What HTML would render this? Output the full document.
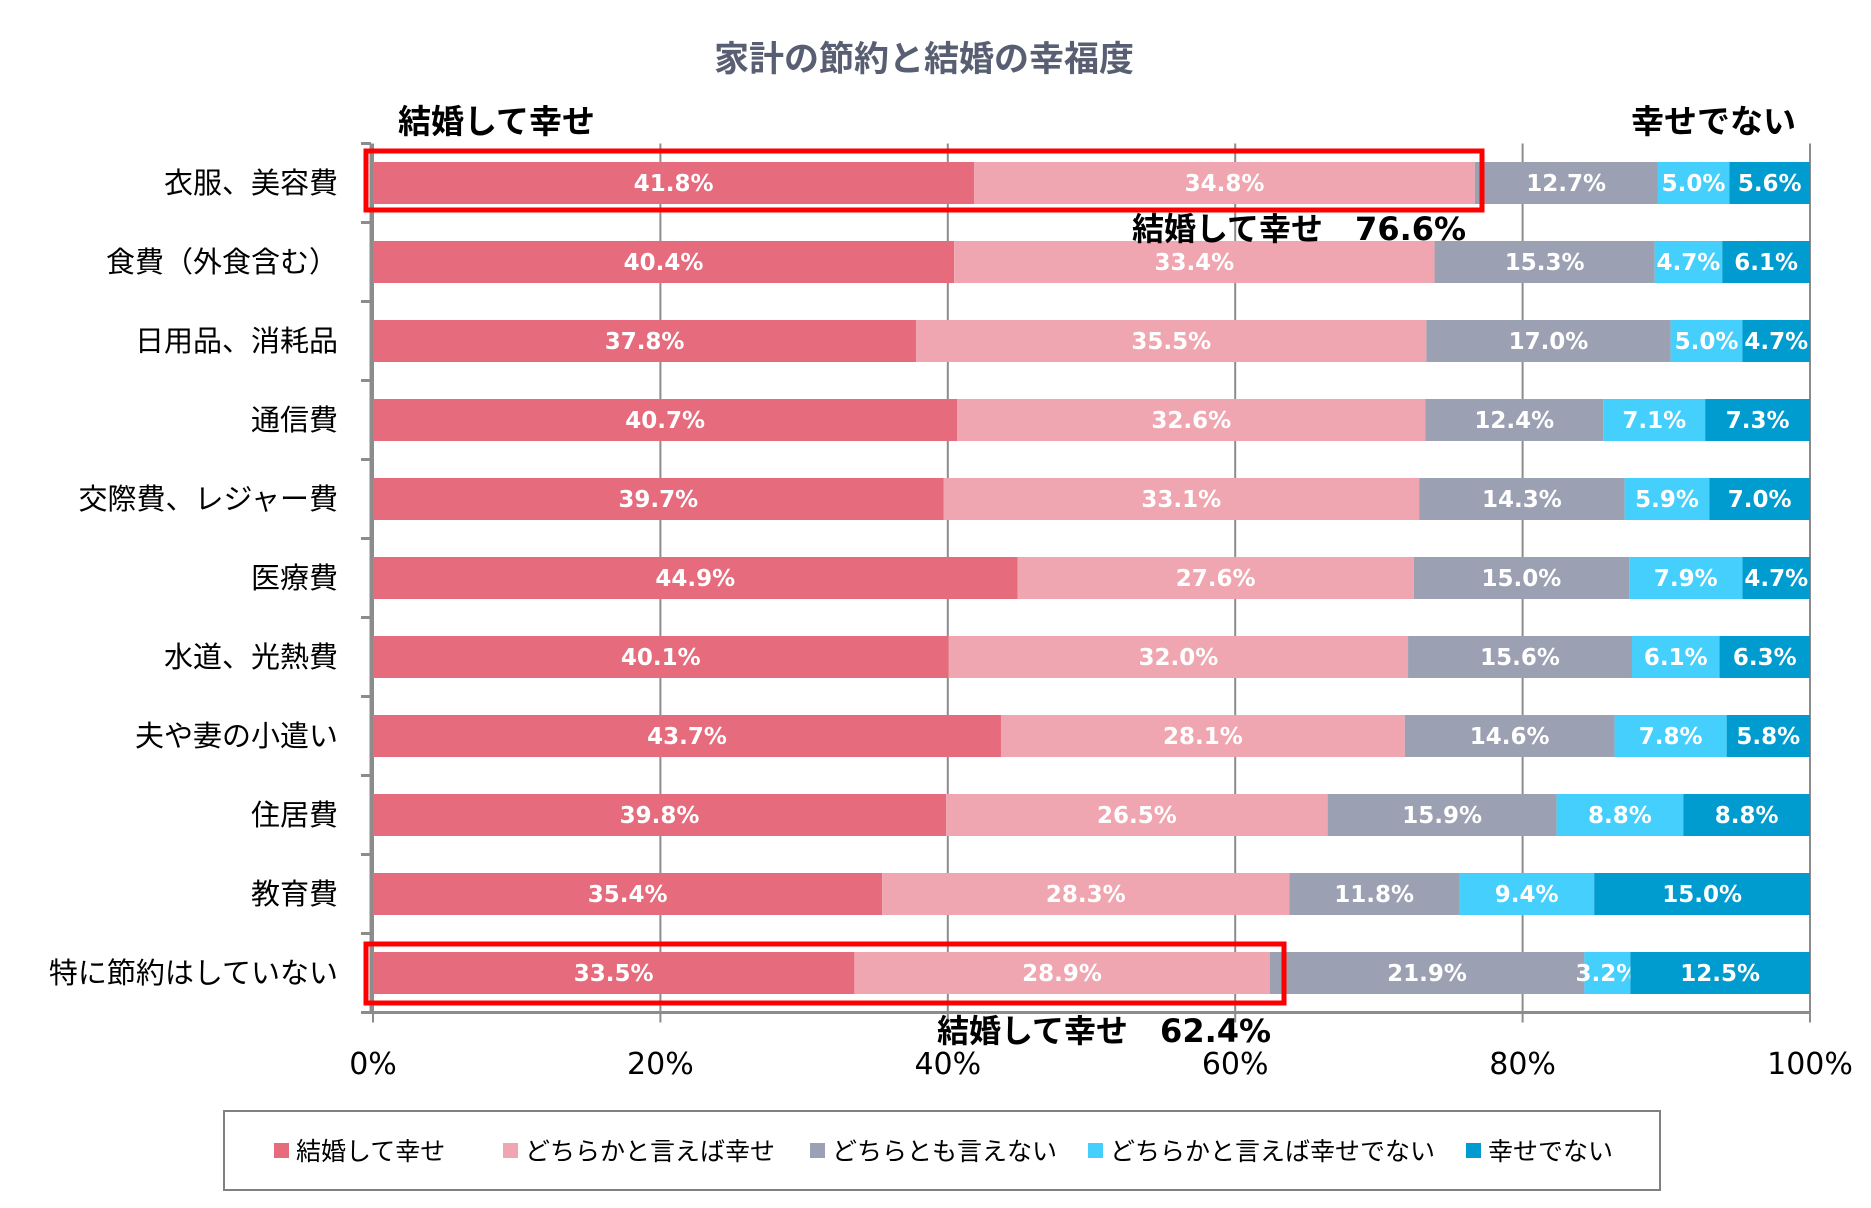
<!DOCTYPE html>
<html><head><meta charset="utf-8"><style>
body{margin:0;background:#fff;}
svg text{font-family:"Liberation Sans","Noto Sans CJK JP",sans-serif;}
.v{font-family:"DejaVu Sans",sans-serif;}
</style></head><body>
<svg id="chart" width="1871" height="1203" viewBox="0 0 1871 1203" xmlns="http://www.w3.org/2000/svg">
<text x="924" y="71" text-anchor="middle" font-size="35" font-weight="bold" fill="#595f73">家計の節約と結婚の幸福度</text>
<text x="398" y="133" font-size="33" font-weight="bold" fill="#000">結婚して幸せ</text>
<text x="1796" y="133" text-anchor="end" font-size="33" font-weight="bold" fill="#000">幸せでない</text>
<g id="grid"></g>
<g id="bars"></g>
<g id="axes"></g>
<rect x="366" y="151" width="1116" height="59" fill="none" stroke="#ff0000" stroke-width="5"/>
<rect x="366" y="944" width="918" height="59" fill="none" stroke="#ff0000" stroke-width="5"/>
<text x="1132" y="240" font-size="32" font-weight="bold" fill="#000">結婚して幸せ　<tspan class="v">76.6%</tspan></text>
<text x="937" y="1042" font-size="32" font-weight="bold" fill="#000">結婚して幸せ　<tspan class="v">62.4%</tspan></text>
<rect x="224" y="1111" width="1436" height="79" fill="#fff" stroke="#808080" stroke-width="2"/>
<g id="legend"></g>
</svg>
<script>
const categories=["衣服、美容費","食費（外食含む）","日用品、消耗品","通信費","交際費、レジャー費","医療費","水道、光熱費","夫や妻の小遣い","住居費","教育費","特に節約はしていない"];
const seriesNames=["結婚して幸せ","どちらかと言えば幸せ","どちらとも言えない","どちらかと言えば幸せでない","幸せでない"];
const s1=[41.8,40.4,37.8,40.7,39.7,44.9,40.1,43.7,39.8,35.4,33.5];
const s2=[34.8,33.4,35.5,32.6,33.1,27.6,32.0,28.1,26.5,28.3,28.9];
const s3=[12.7,15.3,17.0,12.4,14.3,15.0,15.6,14.6,15.9,11.8,21.9];
const s4=[5.0,4.7,5.0,7.1,5.9,7.9,6.1,7.8,8.8,9.4,3.2];
const s5=[5.6,6.1,4.7,7.3,7.0,4.7,6.3,5.8,8.8,15.0,12.5];
const xTicks=[0,20,40,60,80,100];
const colors=["#e56b7d","#f0a6b0","#9ba0b2","#45cffd","#009bcf"];
const NS="http://www.w3.org/2000/svg";
const X0=373,X1=1810,TOP=143.5,ROW=79,BH=42;
const x=v=>X0+(X1-X0)*v/100;
const yc=i=>TOP+ROW*(i+0.5);
function mk(tag,attrs,parent,txt){const e=document.createElementNS(NS,tag);for(const k in attrs)e.setAttribute(k,attrs[k]);if(txt!==undefined)e.textContent=txt;parent.appendChild(e);return e;}
const grid=document.getElementById('grid'),bars=document.getElementById('bars'),axes=document.getElementById('axes'),legend=document.getElementById('legend');
xTicks.forEach(t=>{
  const l=mk('line',{x1:x(t),x2:x(t),y1:TOP,y2:TOP+ROW*categories.length+10,stroke:'#8c8c8c','stroke-width':2},grid);
  
  
  const tx=mk('text',{x:x(t),y:1074,'text-anchor':'middle','font-size':30,fill:'#000','class':'v'},axes,t+'%');
  
  
});
const series=[s1,s2,s3,s4,s5];
categories.forEach((c,i)=>{
  let cum=0;
  const total=series.reduce((a,s)=>a+s[i],0);
  series.forEach((s,j)=>{
    const v=s[i]*100/total;
    const r=mk('rect',{x:x(cum),y:yc(i)-BH/2,width:x(cum+v)-x(cum),height:BH,fill:colors[j]},bars);
    
    
    const t=mk('text',{x:(x(cum)+x(cum+v))/2,y:yc(i)+8,'text-anchor':'middle','font-size':23,'font-weight':'bold',fill:'#fff','class':'v'},bars,s[i].toFixed(1)+'%');
    
    
    cum+=v;
  });
  const ct=mk('text',{x:338,y:yc(i)+10,'text-anchor':'end','font-size':29,fill:'#000'},axes,c);
  
  
});
const ax=mk('line',{x1:371,x2:371,y1:TOP,y2:TOP+ROW*categories.length,stroke:'#8c8c8c','stroke-width':3},axes);


const bx=mk('line',{x1:361,x2:X1,y1:TOP+ROW*categories.length,y2:TOP+ROW*categories.length,stroke:'#8c8c8c','stroke-width':3},axes);


for(let i=0;i<=categories.length;i++){
  const tk=mk('line',{x1:361,x2:371,y1:TOP+ROW*i,y2:TOP+ROW*i,stroke:'#8c8c8c','stroke-width':3},axes);
  
  
}
const legX=[274,503,810,1088,1466];
seriesNames.forEach((n,j)=>{
  const g=mk('g',{},legend);
  
  
  mk('rect',{x:legX[j],y:1143,width:15,height:15,fill:colors[j]},g);
  mk('text',{x:legX[j]+22,y:1160,'font-size':25,fill:'#000'},g,n);
});
</script>
</body></html>
